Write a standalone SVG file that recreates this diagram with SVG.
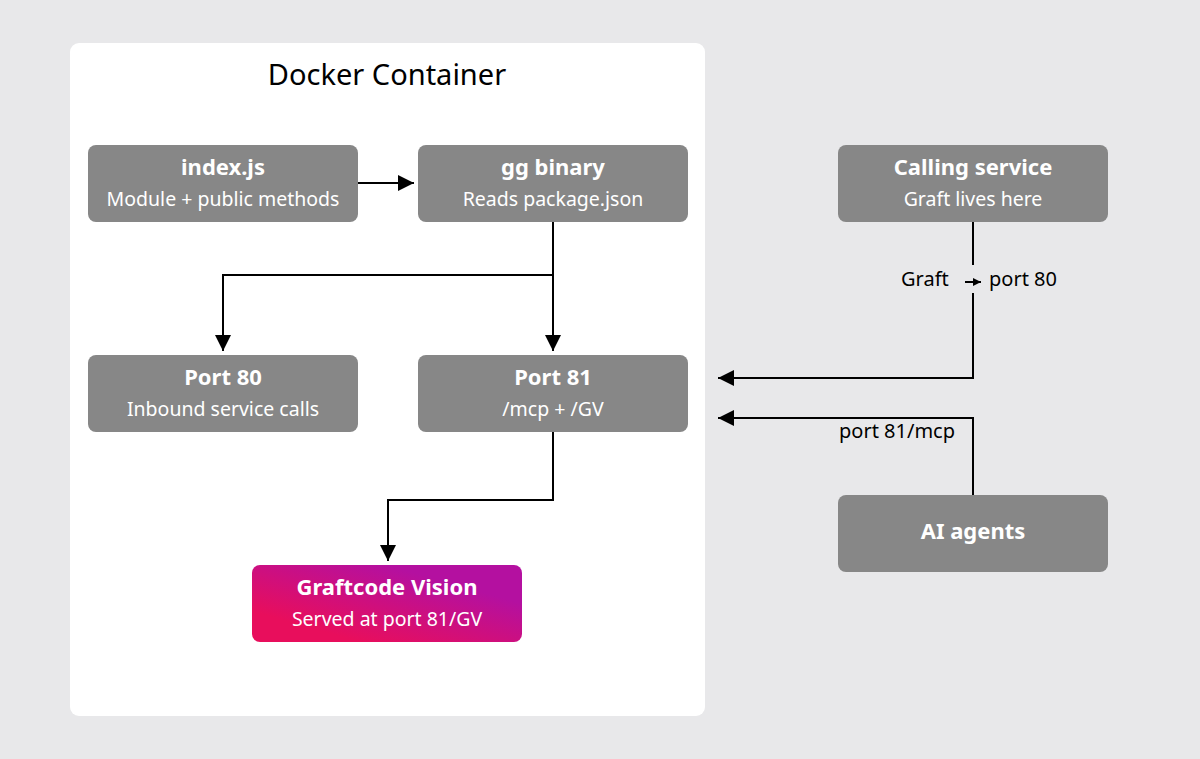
<svg xmlns="http://www.w3.org/2000/svg" width="1200" height="759" viewBox="0 0 1200 759">
<defs>
<style>
.node{fill:#878787}
.t{font-family:"Noto Sans","Liberation Sans",sans-serif;fill:#fff;text-anchor:middle}
.h{font-size:22px;font-weight:700}
.s{font-size:19.5px}
.c{fill:none;stroke:#000;stroke-width:2}
.l{font-family:"Noto Sans","Liberation Sans",sans-serif;font-size:20px;fill:#000}
</style>
<linearGradient id="g" x1="0" y1="1" x2="1" y2="0">
<stop offset="0.2" stop-color="#e80e5c"/>
<stop offset="0.75" stop-color="#b410a0"/>
</linearGradient>
<marker id="a" viewBox="0 0 10 10" refX="10" refY="5" markerWidth="8" markerHeight="8" markerUnits="userSpaceOnUse" orient="auto">
<path d="M0,0 L10,5 L0,10 z" fill="#000"/>
</marker>
<marker id="b" viewBox="0 0 16 16" refX="16" refY="8" markerWidth="16" markerHeight="16" markerUnits="userSpaceOnUse" orient="auto">
<path d="M0,0 L16,8 L0,16 z" fill="#000"/>
</marker>
</defs>
<rect width="1200" height="759" fill="#e8e8ea"/>
<g id="container">
<rect x="70" y="43" width="635" height="673" rx="9" fill="#fff"/>
<text x="387" y="85" font-family="Noto Sans, Liberation Sans, sans-serif" font-size="29" text-anchor="middle" fill="#000">Docker Container</text>
</g>
<g id="connectors">
<path class="c" d="M358,183 H414" marker-end="url(#b)"/>
<path class="c" d="M553,222 V351" marker-end="url(#b)"/>
<path class="c" d="M553,275 H223 V351" marker-end="url(#b)"/>
<path class="c" d="M553,432 V500 H388 V561" marker-end="url(#b)"/>
<path class="c" d="M973,222 V265 M973,293 V378 H718" marker-end="url(#b)"/>
<path class="c" d="M973,495 V418 H718" marker-end="url(#b)"/>
<text class="l" x="901" y="286">Graft</text>
<path class="c" d="M965,282 H981" marker-end="url(#a)" stroke-width="1.5"/>
<text class="l" x="989" y="286">port 80</text>
<text class="l" x="955" y="438" text-anchor="end">port 81/mcp</text>
</g>
<g id="index">
<rect class="node" x="88" y="145" width="270" height="77" rx="8"/>
<text class="t h" x="223" y="175">index.js</text>
<text class="t s" x="223" y="206">Module + public methods</text>
</g>
<g id="gg">
<rect class="node" x="418" y="145" width="270" height="77" rx="8"/>
<text class="t h" x="553" y="175">gg binary</text>
<text class="t s" x="553" y="206">Reads package.json</text>
</g>
<g id="calling">
<rect class="node" x="838" y="145" width="270" height="77" rx="8"/>
<text class="t h" x="973" y="175">Calling service</text>
<text class="t s" x="973" y="206">Graft lives here</text>
</g>
<g id="port80">
<rect class="node" x="88" y="355" width="270" height="77" rx="8"/>
<text class="t h" x="223" y="385">Port 80</text>
<text class="t s" x="223" y="416">Inbound service calls</text>
</g>
<g id="port81">
<rect class="node" x="418" y="355" width="270" height="77" rx="8"/>
<text class="t h" x="553" y="385">Port 81</text>
<text class="t s" x="553" y="416">/mcp + /GV</text>
</g>
<g id="agents">
<rect class="node" x="838" y="495" width="270" height="77" rx="8"/>
<text class="t h" x="973" y="539">AI agents</text>
</g>
<g id="vision">
<rect x="252" y="565" width="270" height="77" rx="8" fill="url(#g)"/>
<text class="t h" x="387" y="595">Graftcode Vision</text>
<text class="t s" x="387" y="626">Served at port 81/GV</text>
</g>
</svg>
